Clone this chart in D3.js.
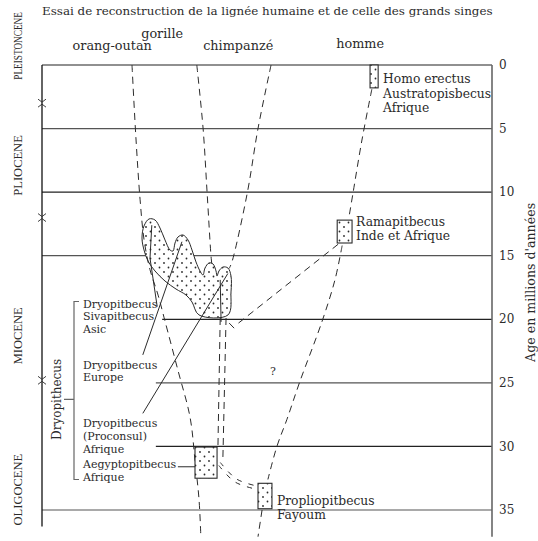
<!DOCTYPE html>
<html><head><meta charset="utf-8">
<script src="https://cdn.jsdelivr.net/npm/d3@7"></script>
<style>
body{margin:0;background:#fff}
svg{display:block;background:#fff}
svg text{font-family:"DejaVu Serif","Liberation Serif",serif;fill:#2b2b2b}
svg text.epoch{font-family:"Liberation Serif","DejaVu Serif",serif}
</style>
</head><body>
<svg id="chart" width="538" height="541"></svg>
<script>
// ---------- data (u = horizontal position 0..100 across the frame, age in millions of years) ----------
const titleText = "Essai de reconstruction de la lignée humaine et de celle des grands singes";
const axisTitle = "Age en millions d'années";
const ageTicks = [0, 5, 10, 15, 20, 25, 30, 35];
const gridStartU = [0, 0, 0, 0, 26.7, 25.3, 25.3, 0];
const epochNames = ["PLEISTONCENE", "PLIOCENE", "MIOCENE", "OLIGOCENE"];
const epochLabelAge = [-1.5, 7.9, 21.3, 33.4];
const epochScale = [0.74, 1, 1, 1];
const epochBoundaries = [3, 12, 24.8];
const lineageNames = ["orang-outan", "gorille", "chimpanzé", "homme"];
const lineageLabelU = [15.6, 26.7, 43.6, 70.7];
const lineageLabelAge = [-1.18, -2.1, -1.18, -1.34];

const orangLine = [[20,0],[20.9,5.9],[21.8,10.6],[22.7,13.8],[24,16.1],[25.8,18.1],[27.3,20.1],[30.2,24],[32.9,27.7],[34,31.1],[34.9,34.2],[35.3,37.1]];
const gorillaLine = [[34.4,0],[35.8,5.0],[36.7,10.1],[37.6,15.2],[37.8,15.8]];
const chimpLine = [[50.9,0],[48,5],[45.6,10.1],[42.2,15.5],[41.6,16.0]];
const hommeUpper = [[73.3,1.9],[71.1,5.9],[69.1,10.1],[68.2,12.0]];
const hommeLower = [[66.7,14.2],[65.1,16.9],[62.2,20.2],[57.3,24.9],[54.4,27.9],[52.2,30.0],[50.2,32.6]];
const hommeBottom = [[48.9,35],[48,37.1]];
const ramaBranch = [[65.8,14.1],[43.3,20.4]];
const ramaBranchEnd = [[41.6,20.3],[42.7,20.7]];
const doubleLeft = [[39.6,19.9],[39.1,30.0]];
const doubleRight = [[40.9,19.9],[40.2,30.9]];
const doubleCurve = [[39.3,31.5],[42.9,32.8],[48,33.4]];
const blobStem = [[39.6,16.9],[39.8,20.2]];

const blob = [[22.67,14.55],[22.22,13.61],[22.67,12.66],[23.78,12.11],[25.11,12.19],[26.22,12.82],[27.33,13.76],[28.44,14.55],
  [29.11,14.63],[29.56,14.0],[30.22,13.53],[31.33,13.37],[32.44,13.76],[33.33,14.55],[34.22,15.49],[35.11,16.2],[35.78,16.52],
  [36.22,15.97],[37.11,15.57],[38.0,15.65],[38.67,16.2],[38.89,16.6],[39.33,16.2],[40.22,15.89],[41.33,15.97],[42.0,16.6],
  [42.0,17.85],[41.33,19.66],[34.89,19.66],[33.33,18.64],[32.0,18.09],[29.78,17.62],[27.33,16.99],[25.11,16.2],[23.56,15.42]];

const pointerSiva = [[25.6,19.0],[24,15.2],[24.4,12.6]];
const pointerEurope = [[22.4,22.8],[31.1,13.9]];
const pointerProconsul = [[22.4,27.4],[41.3,16.4]];
const pointerAegypto = [[30.2,31.6],[36.7,31.6]];

// fossil boxes: [u0, u1, age0, age1]
const boxes = [[72.9,74.7,0,1.8],[65.6,68.9,12.2,14.0],[34,38.9,30.05,32.5],[48,51.1,32.9,34.9]];

// taxon labels: lines, anchor u, first baseline age
const taxaLines = [
  ["Homo erectus","Austratopisbecus","Afrique"],
  ["Ramapitbecus","Inde et Afrique"],
  ["Propliopitbecus","Fayoum"],
  ["Dryopitbecus","Sivapitbecus","Asic"],
  ["Dryopitbecus","Europe"],
  ["Dryopitbecus","(Proconsul)","Afrique"],
  ["Aegyptopitbecus","Afrique"]
];
const taxaU = [75.8, 69.8, 52.2, 9.1, 9.1, 9.1, 9.1];
const taxaAge = [1.42, 12.65, 34.6, 19.1, 23.9, 28.5, 31.7];
const bracketAges = [18.6, 32.6];
const bracketMidAge = 26.3;
const groupName = "Dryopithecus";
const questionMark = {text:"?", u: 51.3, age: 24.1};

// ---------- drawing ----------
const svg = d3.select("#chart");
const x = d3.scaleLinear().domain([0, 100]).range([42, 492]);
const y = d3.scaleLinear().domain([0, 35]).range([65, 510]);
const ink = "#2b2b2b";

const defs = svg.append("defs");
const pat = defs.append("pattern").attr("id","dots").attr("patternUnits","userSpaceOnUse")
  .attr("width",9).attr("height",9);
pat.append("rect").attr("width",9).attr("height",9).attr("fill","#fff");
pat.append("circle").attr("cx",2).attr("cy",2).attr("r",0.9).attr("fill",ink);
pat.append("circle").attr("cx",6.5).attr("cy",6.5).attr("r",0.9).attr("fill",ink);

const line = d3.line().x(d=>x(d[0])).y(d=>y(d[1]));
const curved = d3.line().x(d=>x(d[0])).y(d=>y(d[1])).curve(d3.curveCatmullRom.alpha(0.5));

// title
svg.append("text").attr("x", x(0)).attr("y", 15).attr("font-size", 11.9).text(titleText);

// horizontal grid lines
svg.append("g").selectAll("line").data(ageTicks).join("line")
  .attr("x1",(d,i)=>x(gridStartU[i])).attr("x2",x(100))
  .attr("y1",d=>y(d)).attr("y2",d=>y(d))
  .attr("stroke",(d,i)=> (i%2? "#555":"#222")).attr("stroke-width",1.2);

// axes verticals
svg.append("line").attr("x1",x(0)).attr("x2",x(0)).attr("y1",y(0)).attr("y2",y(36.3))
  .attr("stroke","#111").attr("stroke-width",1.3);
svg.append("line").attr("x1",x(100)).attr("x2",x(100)).attr("y1",y(0)).attr("y2",y(37.1))
  .attr("stroke","#666").attr("stroke-width",1.6);

// right tick labels
svg.append("g").selectAll("text").data(ageTicks).join("text")
  .attr("x", x(100)+7).attr("y", d=>y(d)).attr("dy","0.35em").attr("font-size",12).text(d=>d);

// right axis title
svg.append("text").attr("transform",`translate(535,${y(17.1)}) rotate(-90)`)
  .attr("text-anchor","middle").attr("font-size",12.6).text(axisTitle);

// epoch labels
svg.append("g").selectAll("text").data(epochNames).join("text")
  .attr("class","epoch")
  .attr("transform",(d,i)=>`translate(22,${y(epochLabelAge[i])}) rotate(-90) scale(${epochScale[i]},1)`)
  .attr("text-anchor","middle").attr("font-size",12.5)
  .text(d=>d);

// epoch boundary marks on left axis
svg.append("g").selectAll("path").data(epochBoundaries).join("path")
  .attr("d", d=>{const yy=y(d), x0=x(0); return `M${x0-4},${yy-4}L${x0},${yy-1}L${x0+4},${yy-4}M${x0-4},${yy+4}L${x0},${yy+1}L${x0+4},${yy+4}`;})
  .attr("fill","none").attr("stroke",ink).attr("stroke-width",0.9);

// lineage labels
svg.append("g").selectAll("text").data(lineageNames).join("text")
  .attr("x",(d,i)=>x(lineageLabelU[i])).attr("y",(d,i)=>y(lineageLabelAge[i]))
  .attr("text-anchor","middle").attr("font-size",12.8).text(d=>d);

// stippled blob
svg.append("path").datum(blob)
  .attr("d", d3.line().x(d=>x(d[0])).y(d=>y(d[1])).curve(d3.curveCatmullRomClosed.alpha(0.5)))
  .attr("fill","url(#dots)").attr("stroke",ink).attr("stroke-width",1);

// dashed lineages
const dashed = [orangLine, gorillaLine, chimpLine, hommeUpper, hommeLower, hommeBottom, ramaBranch, doubleLeft, doubleRight];
svg.append("g").selectAll("path").data(dashed).join("path")
  .attr("d", d=>curved(d)).attr("fill","none").attr("stroke",ink).attr("stroke-width",1)
  .attr("stroke-dasharray","7,5");

// double dashed curve to Propliopithecus
[0, 1].forEach(k=>{
  svg.append("path").datum(doubleCurve).attr("d", curved)
    .attr("transform", `translate(${k*1.5},${k*-3})`)
    .attr("fill","none").attr("stroke",ink).attr("stroke-width",1).attr("stroke-dasharray","5,7");
});

// solid lines: pointers and stem
const solids = [pointerSiva, pointerEurope, pointerProconsul, pointerAegypto, blobStem, ramaBranchEnd];
svg.append("g").selectAll("path").data(solids).join("path")
  .attr("d", d=>line(d)).attr("fill","none").attr("stroke",ink).attr("stroke-width",1);

// fossil boxes
svg.append("g").selectAll("rect").data(boxes).join("rect")
  .attr("x",d=>x(d[0])).attr("width",d=>x(d[1])-x(d[0]))
  .attr("y",d=>y(d[2])).attr("height",d=>y(d[3])-y(d[2]))
  .attr("fill","url(#dots)").attr("stroke",ink).attr("stroke-width",1.1);

// taxon labels
const tg = svg.append("g");
taxaLines.forEach((lines,i)=>{
  const t = tg.append("text").attr("font-size",i<3?12.3:11).attr("x",x(taxaU[i])).attr("y",y(taxaAge[i]));
  lines.forEach((s,j)=> t.append("tspan").attr("x",x(taxaU[i])).attr("dy", j===0?0:(i<3?14.5:12.6)).text(s));
});

// Dryopithecus bracket
const bx = 74;
svg.append("path")
  .attr("d", `M${bx+5},${y(bracketAges[0])}H${bx}V${y(bracketAges[1])}H${bx+5}M${bx},${y(bracketMidAge)}H${bx-10}`)
  .attr("fill","none").attr("stroke","#666").attr("stroke-width",1.2);
svg.append("text").attr("transform",`translate(61,${y(bracketMidAge)}) rotate(-90)`)
  .attr("text-anchor","middle").attr("font-size",12).text(groupName);

// question mark
svg.append("text").attr("x",x(questionMark.u)).attr("y",y(questionMark.age)).attr("dy","0.35em")
  .attr("text-anchor","middle").attr("font-size",11).attr("fill","#555").text(questionMark.text);
</script>
</body></html>
